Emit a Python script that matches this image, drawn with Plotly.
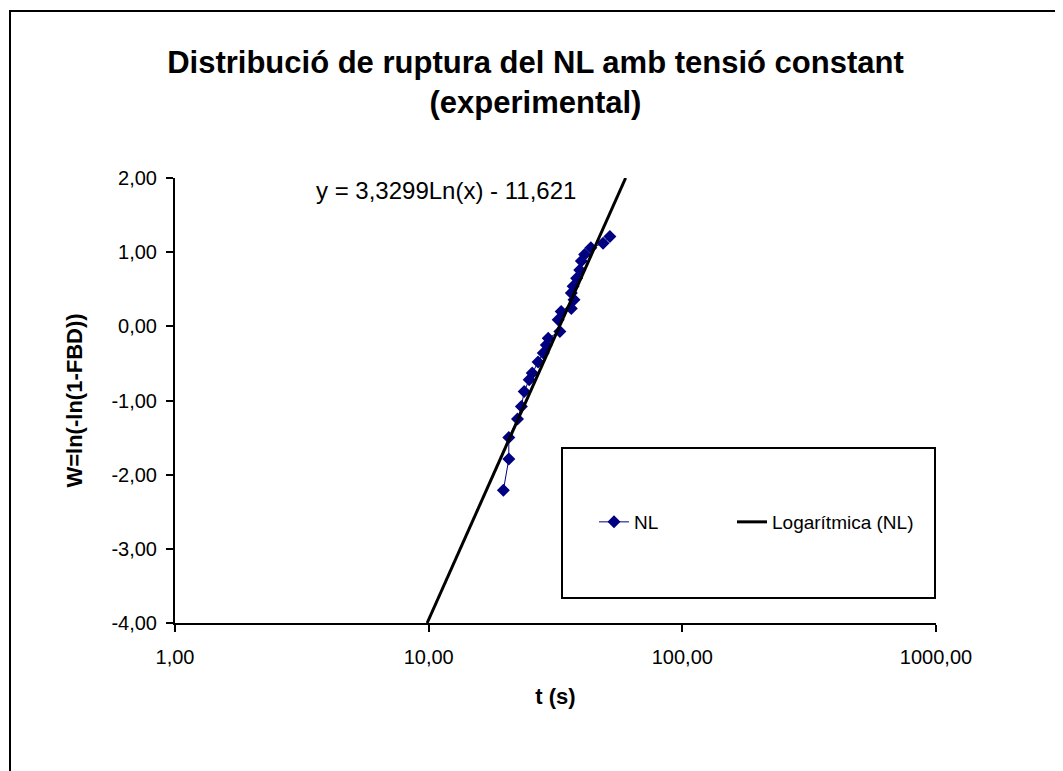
import numpy as np
import plotly.graph_objects as go

# Data
t_values = [19.7, 20.7, 20.7, 22.4, 23.2, 23.8, 24.9, 25.6, 27.0, 28.3, 29.1, 29.6,
            32.9, 32.4, 33.3, 36.5, 37.4, 36.5, 37.1, 38.3, 39.4, 40.0, 41.2, 43.6,
            48.7, 51.8]
w_values = [-2.21, -1.79, -1.50, -1.25, -1.08, -0.88, -0.72, -0.63, -0.48, -0.36, -0.25, -0.16,
            -0.07, 0.09, 0.20, 0.24, 0.36, 0.45, 0.54, 0.65, 0.76, 0.88, 0.97, 1.06,
            1.12, 1.21]

# Logarithmic trendline coefficients (from the chart label)
fit_a = 3.3299
fit_b = -11.621

x_tickvals = [1, 10, 100, 1000]
x_ticktext = ["1,00", "10,00", "100,00", "1000,00"]
y_tickvals = [2, 1, 0, -1, -2, -3, -4]
y_ticktext = ["2,00", "1,00", "0,00", "-1,00", "-2,00", "-3,00", "-4,00"]

title_text = "Distribució de ruptura del NL amb tensió constant<br>(experimental)"
x_title = "t (s)"
y_title = "W=ln(-ln(1-FBD))"
eq_text = "y = 3,3299Ln(x) - 11,621"

# trendline evaluated over the visible range
ymin, ymax = -4, 2
x_lo = np.exp((ymin - fit_b) / fit_a)
x_hi = np.exp((ymax - fit_b) / fit_a)
xt = np.exp(np.linspace(np.log(x_lo), np.log(x_hi), 200))
yt = fit_a * np.log(xt) + fit_b

FONT = "Liberation Sans, Arial, sans-serif"

fig = go.Figure()
fig.add_trace(go.Scatter(
    x=t_values, y=w_values, mode="lines+markers", name="NL",
    line=dict(color="#000080", width=1),
    marker=dict(symbol="diamond", size=10, color="#000080"),
    legend="legend",
))
fig.add_trace(go.Scatter(
    x=xt, y=yt, mode="lines", name="Logarítmica (NL)",
    line=dict(color="black", width=3),
    legend="legend2",
))

OFF = 8  # page body margin
W, H = 1063 - OFF, 771 - OFF
L, T = 175 - OFF, 178 - OFF
R = W - (936 - OFF)
B = H - (623 - OFF)
pw, ph = W - L - R, H - T - B

def px(xp):  # page pixel -> paper x
    return (xp - OFF - L) / pw

def py(yp):  # page pixel -> paper y
    return (H - B - (yp - OFF)) / ph

leg_common = dict(orientation="h", yanchor="middle", xanchor="left",
                  bgcolor="rgba(0,0,0,0)", borderwidth=0,
                  font=dict(size=19, family=FONT, color="black"),
                  itemclick=False, itemdoubleclick=False)

fig.update_layout(
    width=W, height=H,
    margin=dict(l=L, r=R, t=T, b=B),
    paper_bgcolor="white", plot_bgcolor="white",
    font=dict(family=FONT, color="black", size=20),
    title=dict(text=title_text, x=0.5, xref="container", xanchor="center",
               y=1 - (73 - OFF) / H, yanchor="middle", yref="container",
               font=dict(size=31, family=FONT, color="black", weight="bold")),
    showlegend=True,
    legend=dict(x=px(594), y=py(522), **leg_common),
    legend2=dict(x=px(732), y=py(522), **leg_common),
)

fig.update_xaxes(
    type="log", range=[0, 3], tickvals=x_tickvals, ticktext=x_ticktext,
    showline=True, linecolor="black", linewidth=2, mirror=False,
    ticks="outside", ticklen=7, tickwidth=2, tickcolor="black",
    ticklabelstandoff=8,
    showgrid=False, zeroline=False,
    title=dict(text=x_title, font=dict(size=22, weight="bold"), standoff=22),
    tickfont=dict(size=20),
)
fig.update_yaxes(
    range=[-4, 2], tickvals=y_tickvals, ticktext=y_ticktext,
    showline=True, linecolor="black", linewidth=2, mirror=False,
    ticks="outside", ticklen=7, tickwidth=2, tickcolor="black",
    ticklabelstandoff=5,
    showgrid=False, zeroline=False,
    title=dict(text=y_title, font=dict(size=22, weight="bold"), standoff=23),
    tickfont=dict(size=20),
)

# legend box
fig.add_shape(type="rect", xref="paper", yref="paper",
              x0=px(562), x1=px(935), y0=py(598), y1=py(448),
              line=dict(color="black", width=2), fillcolor="rgba(0,0,0,0)")
# outer chart border
fig.add_shape(type="rect", xref="paper", yref="paper",
              x0=px(10), x1=px(1090), y0=py(800), y1=py(11),
              line=dict(color="black", width=2), fillcolor="rgba(0,0,0,0)")

fig.add_annotation(text=eq_text, xref="paper", yref="paper",
                   x=px(446), y=py(190), xanchor="center", yanchor="middle",
                   showarrow=False, font=dict(size=24, family=FONT))

fig.write_html("out.html")
